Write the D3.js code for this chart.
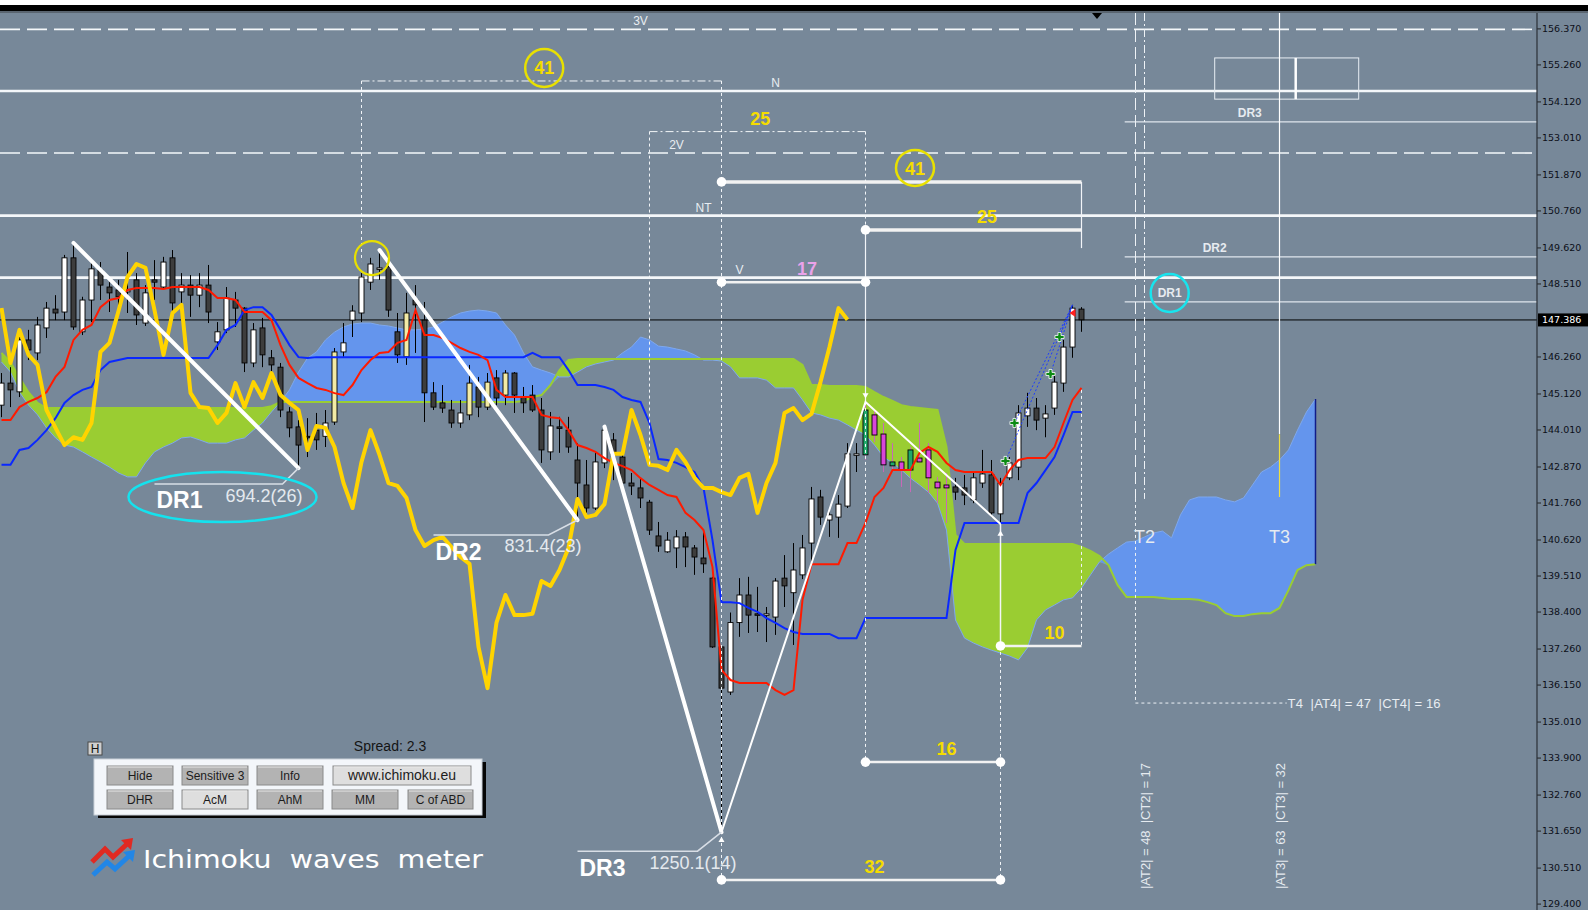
<!DOCTYPE html>
<html>
<head>
<meta charset="utf-8">
<title>Ichimoku waves meter</title>
<script src="https://cdn.jsdelivr.net/npm/d3@7"></script>
<style>
  body { margin: 0; background: #778899; overflow: hidden; }
  #chart svg { display: block; font-family: "Liberation Sans", Arial, sans-serif; }
</style>
</head>
<body>
<div id="chart"></div>
<script>
// ---- DATA ----
const opens = [144.76,145.44,145.17,146.77,146.37,147.14,147.72,147.63,149.30,147.02,
148.00,148.92,148.40,148.31,148.25,148.62,147.29,148.62,148.40,149.30,
148.25,148.46,148.15,148.46,146.71,147.08,148.00,147.75,146.06,147.14,
146.22,145.93,144.55,144.09,143.80,143.99,143.80,144.24,146.40,147.38,
147.60,148.55,148.96,149.02,147.02,146.25,148.00,147.38,145.14,144.83,
144.61,144.21,144.46,145.32,144.70,145.60,145.07,145.75,145.01,145.07,
144.61,143.32,144.09,143.99,143.07,142.30,141.59,142.98,143.69,143.16,
142.36,142.21,141.77,140.73,140.24,140.36,140.70,140.36,140.05,139.43,
137.31,135.92,138.06,138.91,138.33,138.29,138.23,139.43,138.98,139.53,
140.51,141.93,141.22,141.31,141.65,143.23,143.23,144.46,143.87,143.01,
143.01,142.76,143.13,143.38,142.39,142.30,142.24,142.21,141.84,142.36,
142.61,141.41,142.52,142.85,144.43,144.67,144.36,144.67,145.44,146.55,
147.72];
const highs = [145.75,145.93,147.08,147.08,147.48,147.94,148.15,149.39,149.76,148.10,
149.14,149.17,148.55,148.62,149.48,148.83,148.46,149.23,149.33,149.54,
148.83,148.77,148.83,149.08,147.32,148.40,148.25,147.78,147.29,147.45,
146.46,146.06,144.70,144.30,144.36,144.52,144.61,146.52,147.29,147.84,
148.83,149.30,149.54,149.14,147.60,148.22,148.46,147.94,145.47,145.38,
144.92,144.92,146.00,145.63,145.75,145.84,145.84,145.78,145.32,145.38,
144.98,144.55,144.40,144.40,143.59,143.07,143.32,144.10,143.90,143.38,
142.67,142.52,141.84,141.16,140.85,140.91,140.85,140.45,140.91,139.47,
137.37,138.37,139.43,139.47,139.16,138.54,139.43,140.14,140.51,140.76,
142.24,142.15,141.59,141.99,143.59,143.59,144.86,144.61,144.21,143.59,
143.16,143.47,144.21,143.59,142.55,142.67,142.52,142.61,142.70,143.38,
143.07,142.52,143.16,144.76,145.14,144.98,144.76,145.69,146.77,147.85,
147.78];
const lows = [144.39,144.70,145.01,146.15,146.15,146.83,147.38,147.38,147.08,146.92,
147.32,148.00,147.63,147.63,147.60,147.23,147.20,148.00,148.37,147.60,
147.78,147.48,147.78,147.29,146.46,146.98,147.17,145.78,145.93,145.93,
145.78,144.39,143.77,142.82,143.16,143.38,143.47,144.15,146.25,146.86,
147.32,148.31,148.62,147.48,146.06,146.00,146.37,144.24,144.61,144.52,
144.06,144.06,144.30,144.39,144.61,144.76,144.76,144.52,144.52,144.55,
142.98,143.07,143.29,143.29,141.22,141.44,141.53,142.82,142.45,142.05,
141.99,141.59,140.76,140.24,140.21,139.74,139.77,139.53,139.59,137.28,
131.60,135.83,137.62,137.74,137.77,137.46,137.68,138.54,137.37,139.40,
139.77,141.07,140.70,140.67,141.59,142.70,143.07,143.62,142.70,142.76,
142.24,142.08,142.98,142.05,141.74,141.13,141.84,141.68,141.74,142.21,
141.31,141.10,142.45,142.45,144.09,143.99,143.77,144.46,145.17,146.22,
147.02];
const closes = [145.44,145.23,146.77,146.46,147.23,147.75,147.60,149.30,147.17,148.00,
148.96,148.46,148.22,148.10,148.31,147.54,148.22,148.55,149.17,147.91,
148.46,148.15,148.46,147.63,147.02,148.06,147.75,146.06,147.08,146.31,
146.00,144.61,144.06,143.53,143.77,143.69,144.21,146.40,146.68,147.66,
148.71,149.11,148.99,147.69,146.31,147.60,147.85,145.14,144.70,144.67,
144.21,144.52,145.44,144.70,145.47,144.98,145.75,145.07,144.83,144.61,
143.38,144.12,144.06,143.47,142.36,141.59,143.01,143.99,143.23,142.36,
142.27,141.90,140.91,140.42,140.60,140.70,140.39,140.08,139.87,137.31,
136.04,138.06,138.91,138.29,138.29,138.33,139.34,139.19,139.68,140.36,
141.87,141.31,141.38,141.71,143.26,143.26,144.61,143.84,142.92,142.89,
142.76,143.38,143.01,142.52,142.21,142.21,142.08,141.99,142.52,142.64,
141.44,142.36,142.98,144.52,144.67,144.30,144.49,145.47,146.55,147.75,
147.39];

const tenkan = [144.30,144.30,144.70,144.86,144.98,145.16,145.63,145.94,146.77,147.08,
147.23,147.78,148.00,148.06,148.31,148.37,148.37,148.37,148.34,148.40,
148.40,148.40,148.40,148.31,148.06,148.06,148.00,147.63,147.63,147.63,
147.38,146.61,146.00,145.60,145.44,145.29,145.23,145.13,145.07,145.38,
145.84,146.15,146.37,146.40,146.68,146.77,147.69,146.92,146.92,146.83,
146.68,146.52,146.40,146.31,146.15,145.23,145.01,145.01,145.01,145.01,
144.46,144.39,144.36,143.99,143.53,143.44,143.32,143.13,142.98,142.88,
142.76,142.51,142.30,142.15,141.99,141.93,141.44,141.22,140.91,139.77,
136.60,136.29,136.20,136.20,136.20,136.20,135.98,135.83,135.98,138.76,
139.86,139.86,139.86,139.86,140.51,140.51,141.13,141.93,142.21,142.76,
142.76,142.76,143.29,143.47,143.32,142.98,142.76,142.70,142.70,142.70,
142.70,142.30,142.76,143.07,143.13,143.13,143.13,143.47,144.21,144.92,
145.29];
const kijun = [142.92,142.92,143.38,143.44,143.69,143.99,144.36,144.83,145.07,145.23,
145.32,145.84,146.09,146.15,146.21,146.21,146.21,146.21,146.21,146.21,
146.21,146.21,146.21,146.21,146.61,147.08,147.23,147.69,147.78,147.78,
147.54,147.08,146.61,146.24,146.21,146.24,146.24,146.24,146.24,146.24,
146.24,146.24,146.24,146.24,146.24,146.24,146.24,146.24,146.24,146.24,
146.24,146.24,146.24,146.24,146.24,146.24,146.24,146.24,146.24,146.37,
146.24,146.24,146.24,145.84,145.38,145.38,145.38,145.32,145.23,145.01,
144.92,144.86,144.21,143.10,143.07,142.98,142.85,142.70,142.21,140.60,
138.69,138.69,138.66,138.51,138.39,138.20,138.05,137.89,137.77,137.71,
137.71,137.71,137.71,137.58,137.58,137.58,138.20,138.20,138.20,138.20,
138.20,138.20,138.20,138.20,138.20,138.20,140.30,141.13,141.13,141.13,
141.13,141.13,141.13,141.13,142.05,142.36,142.76,143.16,143.84,144.55,
144.55];
const chikou = [147.75,146.06,147.08,146.31,146.00,144.61,144.06,143.53,143.77,143.69,
144.21,146.40,146.68,147.66,148.71,149.11,148.99,147.69,146.31,147.60,
147.85,145.14,144.70,144.67,144.21,144.52,145.44,144.70,145.47,144.98,
145.75,145.07,144.83,144.61,143.38,144.12,144.06,143.47,142.36,141.59,
143.01,143.99,143.23,142.36,142.27,141.90,140.91,140.42,140.60,140.70,
140.39,140.08,139.87,137.31,136.04,138.06,138.91,138.29,138.29,138.33,
139.34,139.19,139.68,140.36,141.87,141.31,141.38,141.71,143.26,143.26,
144.61,143.84,142.92,142.89,142.76,143.38,143.01,142.52,142.21,142.21,
142.08,141.99,142.52,142.64,141.44,142.36,142.98,144.52,144.67,144.30,
144.49,145.47,146.55,147.75,147.39];
const spanA = [146.09,145.78,145.16,144.76,144.46,144.06,143.75,143.53,143.47,143.32,
143.16,143.01,142.85,142.67,142.55,142.55,142.98,143.32,143.47,143.59,
143.75,143.78,143.69,143.59,143.59,143.59,143.69,143.75,143.99,144.21,
144.55,144.86,145.23,145.78,146.21,146.40,146.77,147.01,147.17,147.26,
147.29,147.29,147.23,147.20,147.14,147.08,147.08,147.11,147.17,147.32,
147.48,147.60,147.66,147.69,147.66,147.60,147.23,146.92,146.37,145.94,
145.84,145.75,145.63,145.63,145.78,145.94,146.03,146.09,146.15,146.37,
146.55,146.86,146.77,146.58,146.55,146.49,146.43,146.31,146.15,146.15,
146.12,145.94,145.60,145.60,145.60,145.53,145.29,145.29,145.29,144.92,
144.52,144.46,144.36,144.30,144.15,143.99,143.84,143.53,143.16,142.98,
142.76,142.51,142.30,142.08,141.74,140.91,138.14,137.58,137.43,137.31,
137.21,137.12,137.03,136.91,137.28,138.14,138.45,138.60,138.76,138.82,
139.12,139.53,139.93,140.17,140.36,140.54,140.57,140.70,140.82,140.88,
140.67,141.38,141.84,141.93,141.93,141.93,141.84,141.78,141.90,142.30,
142.70,142.85,143.07,143.38,143.99,144.55,144.95];
const spanB = [146.37,146.09,145.60,145.16,144.83,144.67,144.67,144.67,144.67,144.67,
144.67,144.67,144.67,144.67,144.67,144.67,144.67,144.67,144.67,144.67,
144.67,144.67,144.67,144.67,144.67,144.67,144.67,144.67,144.67,144.67,
144.73,144.86,144.86,144.86,144.86,144.86,144.86,144.86,144.86,144.86,
144.86,144.86,144.86,144.86,144.86,144.86,144.86,144.86,144.86,144.86,
144.86,144.86,144.86,144.86,144.86,144.86,144.86,144.86,144.89,145.01,
145.07,145.38,145.84,146.15,146.18,146.18,146.18,146.18,146.18,146.18,
146.18,146.18,146.18,146.18,146.18,146.18,146.18,146.18,146.18,146.18,
146.18,146.18,146.18,146.18,146.18,146.18,146.18,146.18,146.18,146.00,
145.38,145.38,145.35,145.35,145.35,145.35,145.32,145.16,145.01,144.89,
144.76,144.70,144.67,144.64,144.61,143.47,140.76,140.48,140.48,140.48,
140.48,140.48,140.48,140.48,140.48,140.48,140.48,140.48,140.48,140.48,
140.39,140.27,140.11,139.83,139.22,138.85,138.85,138.85,138.85,138.82,
138.79,138.79,138.79,138.76,138.69,138.60,138.35,138.26,138.26,138.32,
138.35,138.35,138.51,139.06,139.68,139.83,139.86];

const priceTicks = [156.370,155.260,154.120,153.010,151.870,150.760,149.620,148.510,
146.260,145.120,144.010,142.870,141.760,140.620,139.510,138.400,137.260,136.150,
135.010,133.900,132.760,131.650,130.510,129.400];
const lastPrice = 147.386;

const magentaBars = [97, 98, 100, 102, 103, 104, 105];
const greenBars = [96, 99, 101];
const paleBars = [37, 45, 52, 54, 56];

const levelNames = ["3V", "N", "2V", "NT", "V"];
const levelPrices = [156.34, 154.44, 152.53, 150.60, 148.69];
const levelLabelBars = [71, 86, 75, 78, 82];

const drNames = ["DR1", "DR2", "DR3"];
const drStartBars = [8, 42, 67];
const drEndBars = [33, 64, 80];
const drTexts = ["694.2(26)", "831.4(23)", "1250.1(14)"];
const drLevelPrices = [147.94, 149.33, 153.49];
const drLevelLabelBars = [129.8, 134.8, 138.7];
const waveBars = [80, 96, 111];

const boxLabels = ["41", "25"];
const boxFrom = [40, 72];
const boxTo = [80, 96];
const boxPrices = [154.75, 153.19];

const measLabels = ["41", "25", "17", "10", "16", "32"];
const measFrom = [80, 96, 80, 111, 96, 80];
const measTo = [120, 120, 96, 120, 111, 111];
const measPrices = [151.64, 150.16, 148.55, 137.34, 133.76, 130.13];

const signalBars = [112, 113, 117, 118];
const signalPrices = [143.04, 144.21, 145.72, 146.86];

const zoneBars = [134.8, 143.8, 150.8];
const zonePrices = [155.46, 154.19];

const targetNames = ["T2", "T3"];
const targetBars = [127, 142];
const targetTexts = ["|AT2| = 48  |CT2| = 17", "|AT3| = 63  |CT3| = 32"];
const t4Text = "T4  |AT4| = 47  |CT4| = 16";
const t4Price = 135.58;

const buttonRow1 = ["Hide", "Sensitive 3", "Info", "www.ichimoku.eu"];
const buttonRow2 = ["DHR", "AcM", "AhM", "MM", "C of ABD"];

// ---- SVG ----
const W = 1588, H = 910, AXIS_X = 1537, TOP = 13;
const svg = d3.select("#chart").append("svg").attr("width", W).attr("height", H);
svg.append("defs").append("clipPath").attr("id", "plotClip")
  .append("rect").attr("x", 0).attr("y", TOP).attr("width", AXIS_X).attr("height", H - TOP);

svg.append("rect").attr("width", W).attr("height", H).attr("fill", "#778899");
svg.append("rect").attr("width", W).attr("height", 5).attr("fill", "#ffffff");
svg.append("rect").attr("y", 5).attr("width", W).attr("height", 6).attr("fill", "#000000");
svg.append("rect").attr("y", 11).attr("width", W).attr("height", 2).attr("fill", "#5a6570");

// ---- SCALES ----
const x = d3.scaleLinear().domain([0, 170]).range([1.5, 1531.5]);
const y = d3.scaleLinear().domain([129.40, 156.37]).range([903.6, 28.4]);

const plot = svg.append("g").attr("clip-path", "url(#plotClip)");

// ---- CLOUD ----
const cloud = spanA.map((a, i) => ({ i, a, b: spanB[i] }));
plot.append("path").datum(cloud).attr("fill", "#9acd32")
  .attr("d", d3.area().x(d => x(d.i)).y0(d => y(Math.min(d.a, d.b))).y1(d => y(d.b)));
plot.append("path").datum(cloud).attr("fill", "#6495ed")
  .attr("d", d3.area().x(d => x(d.i)).y0(d => y(Math.min(d.a, d.b))).y1(d => y(d.a)));
plot.append("path").datum(cloud).attr("fill", "none").attr("stroke", "#7ea8ee").attr("stroke-width", 1)
  .attr("d", d3.line().x(d => x(d.i)).y(d => y(d.a)));
plot.append("path").datum(cloud).attr("fill", "none").attr("stroke", "#9acd32").attr("stroke-width", 2)
  .attr("d", d3.line().x(d => x(d.i)).y(d => y(d.b)));
const lastCloud = cloud[cloud.length - 1];
plot.append("line")
  .attr("x1", x(lastCloud.i)).attr("x2", x(lastCloud.i))
  .attr("y1", y(lastCloud.a)).attr("y2", y(lastCloud.b))
  .attr("stroke", "#101c8a").attr("stroke-width", 1.5);

// ---- LEVEL LINES ----
levelNames.forEach((name, k) => {
  const dashed = /^\dV$/.test(name);
  plot.append("line").attr("x1", 0).attr("x2", AXIS_X)
    .attr("y1", y(levelPrices[k])).attr("y2", y(levelPrices[k]))
    .attr("stroke", "#f4f7fa").attr("stroke-width", dashed ? 1.6 : 2.6)
    .attr("stroke-dasharray", dashed ? "20,7" : null);
  plot.append("text").attr("x", x(levelLabelBars[k])).attr("y", y(levelPrices[k]) - 4)
    .attr("text-anchor", "middle").attr("font-size", 12).attr("fill", "#e8edf2").text(name);
});

drLevelPrices.forEach((p, k) => {
  plot.append("line").attr("x1", x(124.8)).attr("x2", AXIS_X).attr("y1", y(p)).attr("y2", y(p))
    .attr("stroke", "#dfe6ee").attr("stroke-width", 1.2);
  const lx = x(drLevelLabelBars[k]), ly = y(p) - 9;
  if (k === 0) {
    plot.append("circle").attr("cx", lx).attr("cy", ly).attr("r", 19)
      .attr("fill", "none").attr("stroke", "#18e4ee").attr("stroke-width", 2.5);
  }
  plot.append("text").attr("x", lx).attr("y", ly + 4.3).attr("text-anchor", "middle")
    .attr("font-size", 12).attr("font-weight", "bold").attr("fill", "#e6ebf0").text(drNames[k]);
});

// zone box top right
plot.append("rect").attr("x", x(zoneBars[0])).attr("y", y(zonePrices[0]))
  .attr("width", x(zoneBars[2]) - x(zoneBars[0])).attr("height", y(zonePrices[1]) - y(zonePrices[0]))
  .attr("fill", "none").attr("stroke", "#e8eef4").attr("stroke-width", 1);
plot.append("line").attr("x1", x(zoneBars[1])).attr("x2", x(zoneBars[1]))
  .attr("y1", y(zonePrices[0])).attr("y2", y(zonePrices[1]))
  .attr("stroke", "#ffffff").attr("stroke-width", 2.5);

// current price line
plot.append("line").attr("x1", 0).attr("x2", AXIS_X).attr("y1", y(lastPrice)).attr("y2", y(lastPrice))
  .attr("stroke", "#000").attr("stroke-width", 1);

// ---- TARGET LINES (T2, T3, T4) ----
const t2x = x(targetBars[0]), t2lx = x(targetBars[0] - 1), t3x = x(targetBars[1]);
plot.append("line").attr("x1", t2lx).attr("x2", t2lx).attr("y1", TOP).attr("y2", y(141.87))
  .attr("stroke", "#eef2f6").attr("stroke-dasharray", "12,5");
plot.append("line").attr("x1", t2x).attr("x2", t2x).attr("y1", TOP).attr("y2", y(141.87))
  .attr("stroke", "#eef2f6").attr("stroke-dasharray", "8,3,2,3");
plot.append("line").attr("x1", t3x).attr("x2", t3x).attr("y1", TOP).attr("y2", y(143.86))
  .attr("stroke", "#ffffff").attr("stroke-width", 1.2);
plot.append("line").attr("x1", t3x).attr("x2", t3x).attr("y1", y(143.86)).attr("y2", y(141.93))
  .attr("stroke", "#f0e040").attr("stroke-width", 1.2);
plot.append("path")
  .attr("d", `M${t2lx},${y(141.87)}V${y(t4Price)}H${x(142.8)}`)
  .attr("fill", "none").attr("stroke", "#eef2f6").attr("stroke-dasharray", "3,3");
plot.append("text").attr("x", x(142.9)).attr("y", y(t4Price) + 4.5)
  .attr("font-size", 13).attr("fill", "#e8edf2").attr("textLength", 153)
  .style("white-space", "pre").text(t4Text);
targetNames.forEach((name, k) => {
  const tx = x(targetBars[k]);
  plot.append("text").attr("x", tx).attr("y", y(140.52)).attr("text-anchor", "middle")
    .attr("font-size", 18).attr("fill", "#e6ebf0").text(name);
  plot.append("text")
    .attr("transform", `translate(${tx + 5.5},${y(129.85)}) rotate(-90)`)
    .attr("font-size", 13).attr("fill", "#e6ebf0").attr("textLength", 126)
    .style("white-space", "pre").text(targetTexts[k]);
});

// ---- CANDLES ----
const bars = opens.map((o, i) => ({ i, o, h: highs[i], l: lows[i], c: closes[i] }));
const wickColor = d => (magentaBars.includes(d.i) || greenBars.includes(d.i)) ? "#c768b8" : "#000";
const bodyColor = d => {
  if (greenBars.includes(d.i)) return "#1fa86a";
  if (magentaBars.includes(d.i)) return "#d846d8";
  if (d.c >= d.o) return paleBars.includes(d.i) ? "#f3eba5" : "#ffffff";
  return "#3d3d3d";
};
const candles = plot.append("g");
candles.selectAll("line.wick").data(bars).enter().append("line").attr("class", "wick")
  .attr("x1", d => x(d.i)).attr("x2", d => x(d.i))
  .attr("y1", d => y(d.h)).attr("y2", d => y(d.l))
  .attr("stroke", wickColor).attr("stroke-width", 1);
candles.selectAll("rect.body").data(bars).enter().append("rect").attr("class", "body")
  .attr("x", d => x(d.i) - 2.5).attr("width", 5)
  .attr("y", d => y(Math.max(d.o, d.c)))
  .attr("height", d => Math.max(1.5, y(Math.min(d.o, d.c)) - y(Math.max(d.o, d.c))))
  .attr("fill", bodyColor).attr("stroke", "#000").attr("stroke-width", 0.9);

// ---- LINES ----
const idxLine = d3.line().x((d, i) => x(i)).y(d => y(d));
plot.append("path").datum(kijun).attr("fill", "none").attr("stroke", "#0a28ff").attr("stroke-width", 2).attr("d", idxLine);
plot.append("path").datum(tenkan).attr("fill", "none").attr("stroke", "#ff1a00").attr("stroke-width", 2).attr("d", idxLine);
plot.append("path").datum(chikou).attr("fill", "none").attr("stroke", "#ffd400").attr("stroke-width", 4)
  .attr("stroke-linejoin", "round").attr("d", idxLine);

// ---- SIGNALS ----
const topX = x(119), topY = y(highs[119]);
signalBars.forEach((b, k) => {
  plot.append("line").attr("x1", x(b) - 4).attr("y1", y(signalPrices[k])).attr("x2", topX).attr("y2", topY)
    .attr("stroke", "#1c3cff").attr("stroke-width", 1).attr("stroke-dasharray", "2,2");
});
signalBars.forEach((b, k) => {
  plot.append("path").attr("d", d3.symbol(d3.symbolCross, 46)())
    .attr("transform", `translate(${x(b) - 4},${y(signalPrices[k])})`)
    .attr("fill", "#0b8a12").attr("stroke", "#ffffff").attr("stroke-width", 0.8);
});
plot.append("path").attr("d", "M0,-4L-6,0L0,4Z")
  .attr("transform", `translate(${x(119) + 3},${y(147.6)})`).attr("fill", "#ff2020");

// ---- BOXES AND GUIDES ----
const guide = (x1, y1, x2, y2, dash, w) => plot.append("line")
  .attr("x1", x1).attr("y1", y1).attr("x2", x2).attr("y2", y2)
  .attr("stroke", "#f2f5f8").attr("stroke-width", w || 1).attr("stroke-dasharray", dash);

boxLabels.forEach((lab, k) => {
  const by = y(boxPrices[k]);
  guide(x(boxFrom[k]), by, x(boxTo[k]), by, "8,3,2,3");
  const lx = x((boxFrom[k] + boxTo[k]) / 2 + 0.3);
  if (lab === "41") {
    plot.append("ellipse").attr("cx", lx).attr("cy", by - 13).attr("rx", 19).attr("ry", 19)
      .attr("fill", "none").attr("stroke", "#e8e000").attr("stroke-width", 2.5);
  }
  plot.append("text").attr("x", lx).attr("y", by - 6.5).attr("text-anchor", "middle")
    .attr("font-size", 18).attr("font-weight", "bold").attr("fill", "#f5dc00").text(lab);
});
guide(x(40), y(154.75), x(40), y(149.2), "3,3");
guide(x(80), y(154.75), x(80), y(130.13), "3,3");
guide(x(72), y(153.19), x(72), y(142.9), "3,3");
guide(x(96), y(153.19), x(96), y(150.16), "3,3");
guide(x(96), y(150.16), x(96), y(highs[96]), null, 1.2);
guide(x(96), y(highs[96]), x(96), y(133.76), "3,3");
guide(x(111), y(lows[111]), x(111), y(137.34), null, 1.5);
guide(x(111), y(137.34), x(111), y(130.13), "3,3");
guide(x(120), y(151.64), x(120), y(149.60), null, 1.2);
guide(x(120), y(145.23), x(120), y(137.34), "3,3");

// ---- DR LINES ----
drNames.forEach((name, k) => {
  const sx = x(drStartBars[k]), sy = y(highs[drStartBars[k]]);
  const ex = x(drEndBars[k]), ey = y(lows[drEndBars[k]]);
  plot.append("line").attr("x1", sx).attr("y1", sy).attr("x2", ex).attr("y2", ey)
    .attr("stroke", "#ffffff").attr("stroke-width", 4).attr("stroke-linecap", "round");
  const dy = [16, 15, 19][k], lead = [16, 29, 24][k];
  plot.append("path").attr("d", `M${ex},${ey}L${ex - lead},${ey + dy}H${ex - 144}`)
    .attr("fill", "none").attr("stroke", "#d8dee6").attr("stroke-width", 1.5);
  plot.append("text").attr("x", ex - 142).attr("y", ey + [40, 39.5, 44][k])
    .attr("font-size", 23).attr("font-weight", "bold").attr("fill", "#ffffff").text(name);
  plot.append("text").attr("x", ex + [4, 4, 15][k]).attr("y", ey + [33.5, 31.5, 36.5][k])
    .attr("text-anchor", "end").attr("font-size", 18).attr("fill", "#e4e9ee").text(drTexts[k]);
});
// DR1 ellipse and DR2 top circle
const dr1x = x(drEndBars[0]), dr1y = y(lows[drEndBars[0]]);
plot.append("ellipse").attr("cx", dr1x - 76).attr("cy", dr1y + 29).attr("rx", 94).attr("ry", 25)
  .attr("fill", "none").attr("stroke", "#14e2ee").attr("stroke-width", 2.5);
plot.append("circle").attr("cx", x(drStartBars[1]) - 7.5).attr("cy", y(highs[drStartBars[1]]) + 8).attr("r", 17)
  .attr("fill", "none").attr("stroke", "#e8e000").attr("stroke-width", 2.2);

// wave after DR3
const wavePts = waveBars.map((b, k) => [x(b), y(k % 2 === 0 ? lows[b] : highs[b])]);
plot.append("path").attr("d", d3.line()(wavePts))
  .attr("fill", "none").attr("stroke", "#ffffff").attr("stroke-width", 2);
[[waveBars[0], lows[waveBars[0]], 8], [waveBars[1], highs[waveBars[1]], -7], [waveBars[2], lows[waveBars[2]], 10]]
  .forEach(([b, p, off]) => {
    plot.append("path").attr("d", d3.symbol(d3.symbolTriangle, 16)())
      .attr("transform", `translate(${x(b)},${y(p) + off}) rotate(${off < 0 ? 180 : 0})`)
      .attr("fill", "#ffffff");
  });

// ---- MEASUREMENTS ----
measLabels.forEach((lab, k) => {
  const my = y(measPrices[k]);
  const thick = lab === "41" || lab === "25";
  plot.append("line").attr("x1", x(measFrom[k])).attr("x2", x(measTo[k])).attr("y1", my).attr("y2", my)
    .attr("stroke", "#f2f2f2").attr("stroke-width", thick ? 3.5 : 2.5);
  const ends = measTo[k] === 120 ? [measFrom[k]] : [measFrom[k], measTo[k]];
  ends.forEach(b => plot.append("circle").attr("cx", x(b)).attr("cy", my).attr("r", 4.8).attr("fill", "#ffffff"));
  const lx = x((measFrom[k] + measTo[k]) / 2 + 1.5);
  if (lab === "41") {
    plot.append("ellipse").attr("cx", lx).attr("cy", my - 14).attr("rx", 19).attr("ry", 18)
      .attr("fill", "none").attr("stroke", "#e8e000").attr("stroke-width", 2.5);
  }
  plot.append("text").attr("x", lx).attr("y", my - 7).attr("text-anchor", "middle")
    .attr("font-size", 18).attr("font-weight", "bold")
    .attr("fill", lab === "17" ? "#eaa2ea" : "#f5dc00").text(lab);
});

// ---- AXIS ----
const axis = d3.axisRight(y).tickValues(priceTicks).tickFormat(d3.format(".3f")).tickSize(4).tickPadding(1);
const ag = svg.append("g").attr("transform", `translate(${AXIS_X},0)`).call(axis);
ag.select(".domain").remove();
ag.selectAll("line").attr("stroke", "#222");
ag.selectAll("text").attr("font-family", "DejaVu Sans").attr("font-size", 9.5).attr("fill", "#0c0f18");
svg.append("line").attr("x1", AXIS_X).attr("x2", AXIS_X).attr("y1", TOP).attr("y2", H)
  .attr("stroke", "#2a2f36").attr("stroke-width", 1.2);
svg.append("rect").attr("x", AXIS_X + 1).attr("y", y(lastPrice) - 6.5).attr("width", W - AXIS_X).attr("height", 13).attr("fill", "#000");
svg.append("text").attr("x", AXIS_X + 5).attr("y", y(lastPrice) + 3.5)
  .attr("font-family", "DejaVu Sans").attr("font-size", 9.5).attr("fill", "#fff").text(d3.format(".3f")(lastPrice));
svg.append("path").attr("d", "M1092,13L1102,13L1097,19Z").attr("fill", "#000");

// ---- PANEL ----
const panel = svg.append("g");
panel.append("rect").attr("x", 88).attr("y", 742).attr("width", 14).attr("height", 13)
  .attr("fill", "#cfcfcf").attr("stroke", "#4a4a4a");
panel.append("text").attr("x", 95).attr("y", 753).attr("text-anchor", "middle")
  .attr("font-size", 12).attr("fill", "#111").text("H");
panel.append("text").attr("x", 390).attr("y", 751).attr("text-anchor", "middle")
  .attr("font-size", 14).attr("fill", "#141414").text("Spread: 2.3");
panel.append("rect").attr("x", 98).attr("y", 762).attr("width", 388).attr("height", 56).attr("fill", "#050505");
panel.append("rect").attr("x", 94).attr("y", 759).attr("width", 388).attr("height", 56)
  .attr("fill", "#f3f6fa").attr("stroke", "#c9d0d8");

function button(bx, by, bw, label, light) {
  panel.append("rect").attr("x", bx).attr("y", by).attr("width", bw).attr("height", 19)
    .attr("fill", light ? "#dedede" : "#b3b3b3").attr("stroke", "#8a8a8a");
  panel.append("line").attr("x1", bx + 1).attr("x2", bx + bw - 1).attr("y1", by + 1).attr("y2", by + 1)
    .attr("stroke", "#e8e8e8");
  panel.append("text").attr("x", bx + bw / 2).attr("y", by + 14).attr("text-anchor", "middle")
    .attr("font-size", label.startsWith("www") ? 14 : 12).attr("fill", "#1c1c1c").text(label);
}
const row1X = [107, 182, 257, 333], row1W = [66, 66, 66, 138];
const row2X = [107, 182, 257, 332, 408], row2W = [66, 66, 66, 66, 65];
buttonRow1.forEach((b, k) => button(row1X[k], 766, row1W[k], b, k === 3));
buttonRow2.forEach((b, k) => button(row2X[k], 790, row2W[k], b, k === 1));

// ---- LOGO ----
const logo = svg.append("g");
logo.append("path").attr("d", "M92,862L105,849L113,857L127,844")
  .attr("fill", "none").attr("stroke", "#e02a22").attr("stroke-width", 5);
logo.append("path").attr("d", "M121,840L133,838L131,850Z").attr("fill", "#e02a22");
logo.append("path").attr("d", "M93,875L107,862L115,869L129,856")
  .attr("fill", "none").attr("stroke", "#2286e6").attr("stroke-width", 5);
logo.append("path").attr("d", "M123,852L135,850L133,862Z").attr("fill", "#2286e6");
logo.append("text").attr("x", 143).attr("y", 868)
  .attr("font-family", "DejaVu Sans").attr("font-weight", 400).attr("font-size", 25)
  .attr("fill", "#ffffff").attr("textLength", 340).attr("lengthAdjust", "spacingAndGlyphs")
  .style("white-space", "pre").text("Ichimoku  waves  meter");
</script>
</body>
</html>
